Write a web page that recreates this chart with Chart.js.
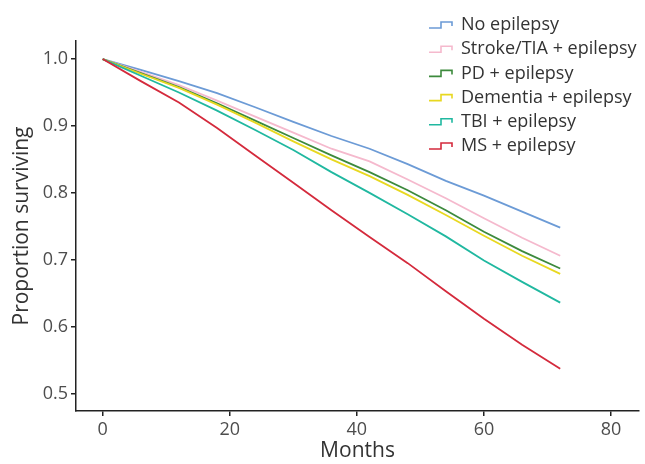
<!DOCTYPE html>
<html>
<head>
<meta charset="utf-8">
<script src="https://cdn.jsdelivr.net/npm/chart.js@4"></script>
<style>
  html, body { margin: 0; padding: 0; background: #fff; }
  #wrap { width: 645px; height: 464px; position: relative; }
</style>
</head>
<body>
<div id="wrap"><canvas id="chart"></canvas></div>
<script>
// months at which the curves were read
const months = [0, 6, 12, 18, 24, 30, 36, 42, 48, 54, 60, 66, 72];

const noEpilepsy = [1.0, 0.984, 0.967, 0.949, 0.928, 0.906, 0.885, 0.866, 0.843, 0.818, 0.796, 0.772, 0.748];
const strokeTia  = [1.0, 0.981, 0.961, 0.938, 0.914, 0.890, 0.866, 0.847, 0.820, 0.792, 0.762, 0.733, 0.706];
const pd         = [1.0, 0.979, 0.958, 0.934, 0.908, 0.882, 0.856, 0.831, 0.804, 0.774, 0.742, 0.713, 0.687];
const dementia   = [1.0, 0.978, 0.957, 0.932, 0.905, 0.877, 0.850, 0.825, 0.797, 0.767, 0.736, 0.706, 0.679];
const tbi        = [1.0, 0.975, 0.950, 0.923, 0.894, 0.864, 0.831, 0.800, 0.768, 0.735, 0.699, 0.667, 0.636];
const ms         = [1.0, 0.967, 0.935, 0.897, 0.856, 0.815, 0.774, 0.734, 0.695, 0.653, 0.612, 0.573, 0.537];

const seriesNames = ['No epilepsy', 'Stroke/TIA + epilepsy', 'PD + epilepsy', 'Dementia + epilepsy', 'TBI + epilepsy', 'MS + epilepsy'];
const seriesData = [noEpilepsy, strokeTia, pd, dementia, tbi, ms];
const colors = ['#6c9bd6', '#f5b9cd', '#3d8a3d', '#e8d820', '#20b8a0', '#d42a3c'];

const xTicks = [0, 20, 40, 60, 80];
const yTicks = [0.5, 0.6, 0.7, 0.8, 0.9, 1.0];

const FONT = "'Open Sans', 'Noto Sans', sans-serif";

const datasets = seriesData.map((vals, i) => ({
  label: seriesNames[i],
  data: vals.map((v, j) => ({x: months[j], y: v})),
  borderColor: colors[i],
  borderWidth: 1.8,
  pointRadius: 0,
  tension: 0,
  fill: false,
  order: 5 - i
}));

// legend drawn top right like the ggplot key
const legendPlugin = {
  id: 'kmLegend',
  afterDraw(chart) {
    const ctx = chart.ctx;
    ctx.save();
    ctx.font = '18px ' + FONT;
    ctx.textBaseline = 'middle';
    ctx.fillStyle = '#333';
    seriesNames.forEach((name, i) => {
      const cy = 25 + i * 24.2;
      ctx.strokeStyle = colors[i];
      ctx.lineWidth = 1.6;
      ctx.beginPath();
      ctx.moveTo(429, cy + 3);
      ctx.lineTo(441, cy + 3);
      ctx.lineTo(441, cy - 3);
      ctx.lineTo(452, cy - 3);
      ctx.lineTo(452, cy + 1);
      ctx.stroke();
      ctx.fillText(name, 461, cy);
    });
    ctx.restore();
  }
};

new Chart(document.getElementById('chart'), {
  type: 'line',
  data: {datasets: datasets},
  options: {
    responsive: true,
    maintainAspectRatio: false,
    animation: false,
    devicePixelRatio: 1,
    layout: {padding: {left: 0, right: 6, top: 41, bottom: 0}},
    plugins: {legend: {display: false}, tooltip: {enabled: false}},
    scales: {
      x: {
        type: 'linear',
        min: -4.2,
        max: 84.4,
        afterBuildTicks: (scale) => { scale.ticks = xTicks.map(v => ({value: v})); },
        afterFit: (scale) => { scale.height = 53; },
        ticks: {color: '#4d4d4d', font: {family: FONT, size: 18}, padding: 3, maxRotation: 0,
                callback: (v) => String(v)},
        grid: {drawOnChartArea: false, drawTicks: true, tickLength: 5, color: '#222', lineWidth: 1.5},
        border: {display: true, color: '#222', width: 1.5},
        title: {display: true, text: 'Months', color: '#333', font: {family: FONT, size: 21}, padding: {top: -2, bottom: 0}}
      },
      y: {
        type: 'linear',
        min: 0.474,
        max: 1.027,
        afterBuildTicks: (scale) => { scale.ticks = yTicks.map(v => ({value: v})); },
        afterFit: (scale) => { scale.width = 76; },
        ticks: {color: '#4d4d4d', font: {family: FONT, size: 18}, padding: 3,
                callback: (v) => v.toFixed(1)},
        grid: {drawOnChartArea: false, drawTicks: true, tickLength: 5, color: '#222', lineWidth: 1.5},
        border: {display: true, color: '#222', width: 1.5},
        title: {display: true, text: 'Proportion surviving', color: '#333', font: {family: FONT, size: 21}, padding: {top: 9, bottom: 0}}
      }
    }
  },
  plugins: [legendPlugin]
});
</script>
</body>
</html>
